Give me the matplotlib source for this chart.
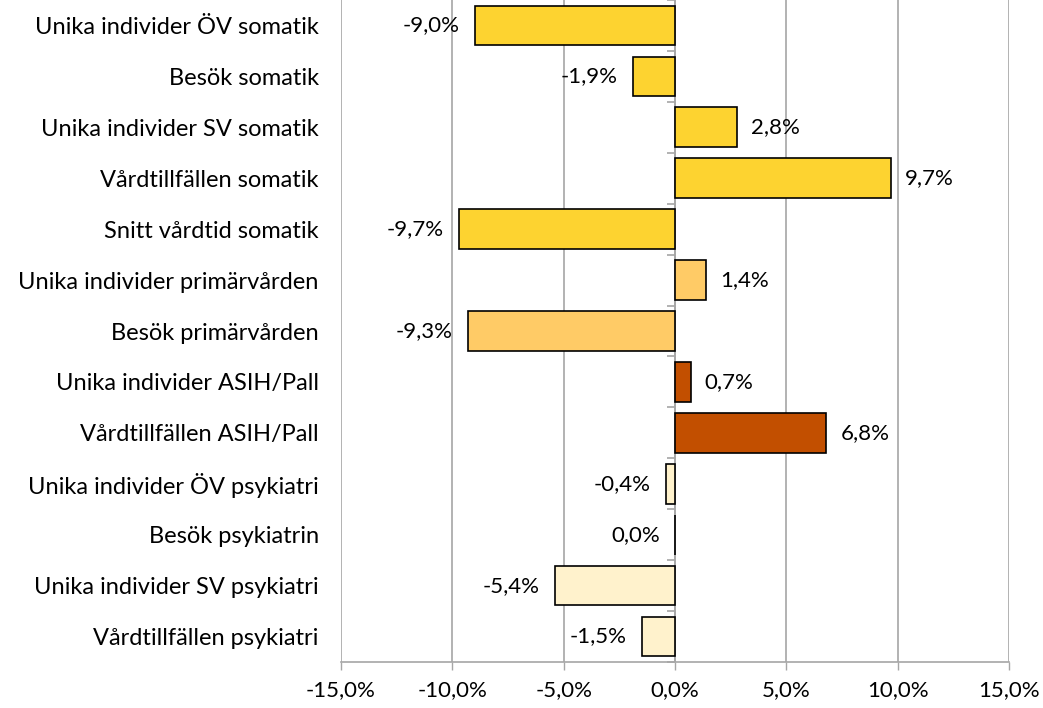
import numpy as np
import matplotlib
matplotlib.use("Agg")
import matplotlib.pyplot as plt
from matplotlib.ticker import FuncFormatter

plt.rcParams['font.family'] = ['Lato', 'DejaVu Sans']

# data (top to bottom)
categories = [
    "Unika individer ÖV somatik",
    "Besök somatik",
    "Unika individer SV somatik",
    "Vårdtillfällen somatik",
    "Snitt vårdtid somatik",
    "Unika individer primärvården",
    "Besök primärvården",
    "Unika individer ASIH/Pall",
    "Vårdtillfällen ASIH/Pall",
    "Unika individer ÖV psykiatri",
    "Besök psykiatrin",
    "Unika individer SV psykiatri",
    "Vårdtillfällen psykiatri",
]
values = [-9.0, -1.9, 2.8, 9.7, -9.7, 1.4, -9.3, 0.7, 6.8, -0.4, 0.0, -5.4, -1.5]
groups = ["somatik"] * 5 + ["primar"] * 2 + ["asih"] * 2 + ["psyk"] * 4

group_colors = {
    "somatik": "#FDD330",
    "primar": "#FFCB66",
    "asih": "#C24F00",
    "psyk": "#FFF2CC",
}

grid_col = "#A6A6A6"
fs = 16

fig = plt.figure(figsize=(10.43, 7.08), dpi=100)
ax = fig.add_axes([341 / 1043, 46 / 708, 668 / 1043, 662 / 708])

n = len(categories)
ypos = np.arange(n)
colors = [group_colors[g] for g in groups]

ax.barh(ypos, values, height=0.78, color=colors, edgecolor="black",
        linewidth=1.2, zorder=3)

# value labels
for y, v in zip(ypos, values):
    txt = f"{v:.1f}%".replace(".", ",")
    if v > 0:
        ax.annotate(txt, (v, y), xytext=(10, 0), textcoords="offset points",
                    ha="left", va="center", fontsize=fs, zorder=4)
    else:
        ax.annotate(txt, (v, y), xytext=(-11, 0), textcoords="offset points",
                    ha="right", va="center", fontsize=fs, zorder=4)

ax.set_xlim(-15, 15)
ax.set_ylim(n - 0.5, -0.5)
ax.set_xticks(np.arange(-15, 16, 5))
ax.xaxis.set_major_formatter(FuncFormatter(lambda x, p: f"{x:.1f}%".replace(".", ",")))
ax.tick_params(axis="x", direction="out", length=6, width=1, color=grid_col,
               pad=7, labelsize=fs)
ax.grid(axis="x", color=grid_col, linewidth=1.2, zorder=0)

ax.set_yticks(ypos)
ax.set_yticklabels(categories, fontsize=17)
ax.tick_params(axis="y", length=0, pad=16)

for s in ["top", "right", "left"]:
    ax.spines[s].set_visible(False)
ax.spines["bottom"].set_color(grid_col)
ax.spines["bottom"].set_linewidth(1.2)

# vertical axis at zero with small ticks between categories
ax.axvline(0, color=grid_col, linewidth=1.2, zorder=2)
bounds = np.arange(n + 1) - 0.5
ax.plot(np.zeros(n + 1), bounds, ls="none", marker=0, ms=6, mew=1.2,
        color=grid_col, zorder=2, clip_on=False)

fig.savefig("out.png", dpi=100)
